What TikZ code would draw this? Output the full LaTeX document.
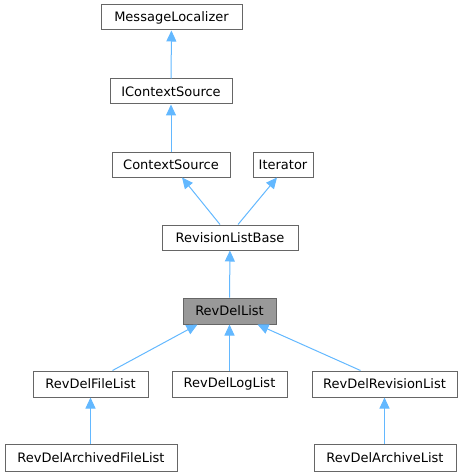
\documentclass[tikz,border=0pt]{standalone}
\usepackage{fontspec}
\setmainfont{DejaVu Sans}
\usetikzlibrary{arrows.meta}
\definecolor{edgeblue}{HTML}{63B8FF}
\definecolor{boxborder}{HTML}{666666}
\definecolor{hlfill}{HTML}{999999}
\tikzset{
  cls/.style={draw=boxborder, line width=1pt, fill=white, minimum height=25pt, inner sep=0pt, font=\fontsize{13}{15}\selectfont},
  hl/.style={cls, fill=hlfill},
  edge/.style={draw=edgeblue, line width=1pt, -{Triangle[length=11pt,width=10pt]}},
}
\begin{document}
\begin{tikzpicture}[x=1pt,y=-1pt]
\useasboundingbox (0,0) rectangle (465,476);
\node[cls, minimum width=141pt] (ml) at (171.5,17.5) {MessageLocalizer};
\node[cls, minimum width=122pt] (ics) at (171,91.5) {IContextSource};
\node[cls, minimum width=118pt] (cs) at (171,164.5) {ContextSource};
\node[cls, minimum width=60pt] (it) at (283,164.5) {Iterator};
\node[cls, minimum width=136pt] (rlb) at (230,237.5) {RevisionListBase};
\node[hl, minimum width=93pt, minimum height=26pt] (rdl) at (229.5,311) {RevDelList};
\node[cls, minimum width=115pt, minimum height=26pt] (fl) at (90.5,384) {RevDelFileList};
\node[cls, minimum width=115pt, minimum height=26pt] (ll) at (229.5,384) {RevDelLogList};
\node[cls, minimum width=145pt, minimum height=26pt] (rl) at (384.5,384) {RevDelRevisionList};
\node[cls, minimum width=172pt, minimum height=27pt] (afl) at (91,457.5) {RevDelArchivedFileList};
\node[cls, minimum width=142pt, minimum height=27pt] (al) at (385,457.5) {RevDelArchiveList};
\draw[edge] (ics) -- (ml);
\draw[edge] (cs) -- (ics);
\draw[edge] ([xshift=-10pt]rlb.north) -- ([xshift=11pt]cs.south);
\draw[edge] ([xshift=8pt]rlb.north) -- ([xshift=-6pt]it.south);
\draw[edge] (rdl) -- (rlb);
\draw[edge] ([xshift=22pt]fl.north) -- ([xshift=-32pt]rdl.south);
\draw[edge] (ll) -- (rdl);
\draw[edge] ([xshift=-24pt]rl.north) -- ([xshift=28pt]rdl.south);
\draw[edge] (afl.north -| fl.south) -- (fl.south);
\draw[edge] (al.north -| rl.south) -- (rl.south);
\end{tikzpicture}
\end{document}
